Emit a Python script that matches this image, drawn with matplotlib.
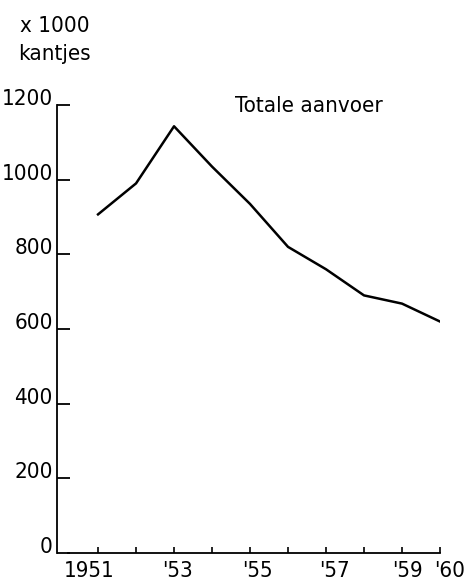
import matplotlib
matplotlib.use("Agg")
import matplotlib.pyplot as plt
import matplotlib.transforms as mtransforms

# ── data ──────────────────────────────────────────────────────────────
YEARS   = [1951, 1952, 1953, 1954, 1955, 1956, 1957, 1958, 1959, 1960]
AANVOER = [907, 990, 1143, 1035, 935, 820, 760, 690, 668, 620]   # x 1000 kantjes

XTICK_POS    = [1951, 1953, 1955, 1957, 1959, 1960]
XTICK_LABELS = ["1951", "'53", "'55", "'57", "'59", "'60"]
MINOR_POS    = [1952, 1954, 1956, 1958]
YTICKS       = [0, 200, 400, 600, 800, 1000, 1200]

# hand-lettered labels sit a bit off their ticks (pixels)
LABEL_SHIFT = [-9, 3, 7, 8, 5, 10]

FONT = dict(family="DejaVu Sans", stretch="condensed", size=16)
W, H = 475, 587

fig = plt.figure(figsize=(W / 100, H / 100), dpi=100)
# axes placed in pixel units of the reference
left, right, bottom, top = 57, 440, 553, 105
ax = fig.add_axes([left / W, 1 - bottom / H, (right - left) / W, (bottom - top) / H])

ax.plot(YEARS, AANVOER, color="black", linewidth=1.8, solid_joinstyle="round")

ax.set_xlim(1949.92, 1960)
ax.set_ylim(0, 1200)

for s in ["top", "right"]:
    ax.spines[s].set_visible(False)
ax.spines["bottom"].set_bounds(1950.2, 1960)
ax.spines["left"].set_linewidth(1.3)
ax.spines["bottom"].set_linewidth(1.3)

ax.set_xticks(XTICK_POS, labels=XTICK_LABELS)
ax.set_xticks(MINOR_POS, minor=True)
ax.tick_params(axis="x", which="both", direction="in", length=4, width=1.2, pad=6)
for lbl, dx in zip(ax.get_xticklabels(), LABEL_SHIFT):
    lbl.set(**FONT)
    lbl.set_transform(lbl.get_transform()
                      + mtransforms.ScaledTranslation(dx / 100, 0, fig.dpi_scale_trans))

ax.set_yticks(YTICKS, labels=[str(v) for v in YTICKS])
ax.tick_params(axis="y", direction="in", length=9, width=1.3, pad=3)
for lbl in ax.get_yticklabels():
    lbl.set(**FONT)
    lbl.set_verticalalignment("baseline")

fig.text(20 / W, 1 - 32 / H, "x 1000", va="baseline", **FONT)
fig.text(18 / W, 1 - 60 / H, "kantjes", va="baseline", **FONT)
fig.text(235 / W, 1 - 112 / H, "Totale aanvoer", va="baseline", **FONT)

fig.savefig("out.png", dpi=100, facecolor="white")
